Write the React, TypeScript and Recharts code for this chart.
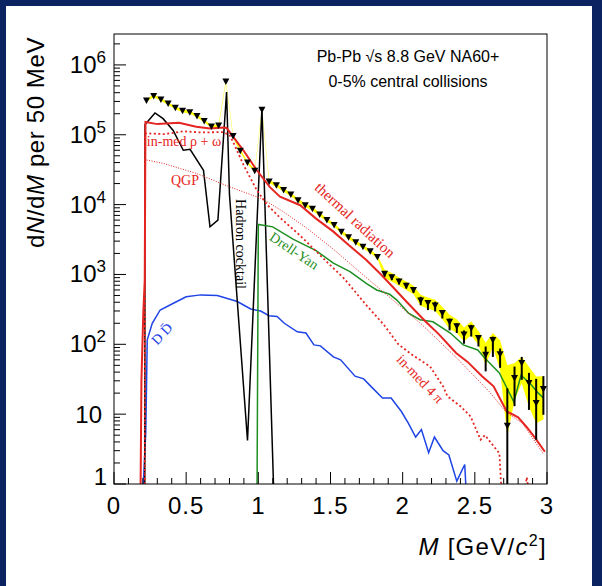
import React from 'react';
import { ComposedChart, Line, Area, Scatter, ErrorBar, XAxis, YAxis } from 'recharts';

// measured spectrum (50 MeV bins)
const massPts = [0.225, 0.275, 0.325, 0.375, 0.425, 0.475, 0.525, 0.575, 0.625, 0.675, 0.725, 0.775, 0.825, 0.875, 0.925, 0.975, 1.025, 1.075, 1.125, 1.175, 1.225, 1.275, 1.325, 1.375, 1.425, 1.475, 1.525, 1.575, 1.625, 1.675, 1.725, 1.775, 1.825, 1.875, 1.925, 1.975, 2.025, 2.075, 2.125, 2.175, 2.225, 2.275, 2.325, 2.375, 2.425, 2.475, 2.525, 2.575, 2.625, 2.675, 2.725, 2.775, 2.825, 2.875, 2.925, 2.975];
const yieldPts = [3.1e5, 3.6e5, 3.2e5, 2.8e5, 2.43e5, 2.2e5, 2.1e5, 1.85e5, 1.58e5, 1.31e5, 1.36e5, 5.8e5, 9.6e4, 5.9e4, 4.0e4, 3.06e4, 2.28e5, 2.14e4, 1.89e4, 1.62e4, 1.4e4, 1.15e4, 9800, 8700, 7200, 6000, 5100, 4100, 3400, 2900, 2500, 2150, 1780, 1020, 910, 790, 690, 600, 425, 390, 360, 280, 210, 182, 138, 170, 123, 71, 115, 72, 6.8, 33, 54, 28, 14.4, 23];
const statLo = [null, null, null, null, null, null, null, null, null, null, null, null, null, null, null, null, null, null, null, null, null, null, null, null, null, null, null, null, null, null, null, null, null, 930, 830, 720, 630, 545, 363, 309, 295, 234, 158, 145, 102, 129, 93, 41, 66, 46, 1, 13, 31, 11.5, 4.3, 9.8];
const statHi = [null, null, null, null, null, null, null, null, null, null, null, null, null, null, null, null, null, null, null, null, null, null, null, null, null, null, null, null, null, null, null, null, null, 1120, 1000, 870, 760, 660, 479, 427, 407, 309, 234, 200, 158, 190, 135, 93, 129, 87, 23.4, 48, 66, 39, 32, 35];
// systematic band half-widths, in decades
const sysUp = [0.02, 0.02, 0.02, 0.02, 0.02, 0.02, 0.02, 0.02, 0.02, 0.02, 0.02, 0.02, 0.02, 0.02, 0.02, 0.02, 0.02, 0.025, 0.025, 0.025, 0.025, 0.025, 0.025, 0.025, 0.025, 0.025, 0.025, 0.025, 0.025, 0.025, 0.025, 0.025, 0.025, 0.06, 0.06, 0.06, 0.06, 0.06, 0.08, 0.08, 0.08, 0.09, 0.1, 0.1, 0.1, 0.1, 0.1, 0.17, 0.1, 0.2, 0.87, 0.21, 0.09, 0.23, 0.38, 0.18];
const sysDn = [0.02, 0.02, 0.02, 0.02, 0.02, 0.02, 0.02, 0.02, 0.02, 0.02, 0.02, 0.02, 0.02, 0.02, 0.02, 0.02, 0.02, 0.025, 0.025, 0.025, 0.025, 0.025, 0.025, 0.025, 0.025, 0.025, 0.025, 0.025, 0.025, 0.025, 0.025, 0.025, 0.025, 0.06, 0.06, 0.06, 0.06, 0.06, 0.08, 0.08, 0.08, 0.09, 0.1, 0.1, 0.1, 0.1, 0.1, 0.15, 0.1, 0.23, 0.15, 0.32, 0.29, 0.34, 0.29, 0.44];

// thermal radiation (total)
const thermalM = [0.184, 0.19, 0.203, 0.213, 0.218, 0.3, 0.45, 0.57, 0.665, 0.76, 0.78, 0.826, 0.896, 0.99, 1.08, 1.15, 1.29, 1.4, 1.52, 1.63, 1.75, 1.85, 1.935, 2.03, 2.16, 2.25, 2.37, 2.45, 2.55, 2.63, 2.72, 2.8, 2.86, 2.92, 2.985];
const thermalV = [0.8, 30, 280, 830, 1.52e5, 1.42e5, 1.48e5, 1.3e5, 1.23e5, 1.27e5, 1.25e5, 9.3e4, 6e4, 3.1e4, 1.78e4, 1.3e4, 9.8e3, 6.3e3, 4.1e3, 2.6e3, 1.6e3, 1.0e3, 650, 400, 210, 140, 75, 56, 35, 25, 11, 9, 6.5, 4.5, 2.9];
// in-medium rho + omega (4 pi)
const rhoM = [0.213, 0.215, 0.35, 0.48, 0.6, 0.75, 0.8, 0.83, 0.9, 0.99, 1.06, 1.15, 1.29, 1.45, 1.6, 1.74, 1.87, 1.97, 2.06, 2.19, 2.28, 2.31, 2.4, 2.47, 2.54, 2.57, 2.67, 2.69, 2.83, 2.86, 2.88];
const rhoV = [0.3, 1.05e5, 1.02e5, 1.12e5, 1.08e5, 1.09e5, 1.0e5, 7.5e4, 3.6e4, 1.6e4, 1.0e4, 6.5e3, 3.6e3, 1.7e3, 850, 380, 190, 100, 72, 48, 25, 18, 13, 9.3, 4.3, 5, 2.75, 0.5, 0.5, 1.25, 0.6];
// QGP
const qgpM = [0.213, 0.215, 0.34, 0.57, 0.8, 1.03, 1.15, 1.336, 1.52, 1.735, 1.95, 2.135, 2.37, 2.6, 2.72, 2.83, 2.975];
const qgpV = [0.3, 4.4e4, 3.9e4, 2.8e4, 1.8e4, 1.2e4, 8.5e3, 4.6e3, 2.3e3, 950, 400, 190, 65, 21, 10.5, 7.4, 2.7];
// hadron cocktail
const cocktailM = [0.213, 0.215, 0.284, 0.34, 0.41, 0.48, 0.527, 0.62, 0.665, 0.72, 0.78, 0.8, 0.925, 1.025, 1.105, 1.115];
const cocktailV = [0.3, 1.4e5, 2.05e5, 1.7e5, 1.15e5, 6.0e4, 6.2e4, 3.1e4, 4.8e3, 6.0e3, 4.1e5, 1.4e4, 4.2, 2.4e5, 1, 0.3];
// Drell-Yan
const dyM = [0.99, 1.0, 1.1, 1.24, 1.4, 1.52, 1.635, 1.75, 1.82, 1.91, 1.96, 2.04, 2.12, 2.21, 2.33, 2.42, 2.52, 2.57, 2.67, 2.73, 2.77, 2.82, 2.88, 2.94, 2.975];
const dyV = [0.3, 5.2e3, 4.8e3, 3.2e3, 2.2e3, 1.45e3, 1.1e3, 740, 600, 520, 430, 280, 225, 210, 145, 98, 83, 63, 39, 22, 15, 36, 28, 20, 17];
// open charm (D Dbar)
const ddM = [0.2, 0.203, 0.22, 0.226, 0.23, 0.265, 0.32, 0.415, 0.5, 0.6, 0.716, 0.854, 0.947, 1.016, 1.074, 1.13, 1.18, 1.27, 1.33, 1.385, 1.43, 1.52, 1.57, 1.67, 1.73, 1.78, 1.86, 1.92, 1.99, 2.04, 2.09, 2.13, 2.18, 2.22, 2.28, 2.32, 2.375, 2.43, 2.445];
const ddV = [0.5, 1, 5.4, 31, 115, 200, 310, 390, 480, 510, 500, 410, 320, 300, 257, 251, 200, 151, 145, 98, 95, 66, 60, 35, 32, 25, 17, 17, 11, 7.4, 4.7, 6, 2.8, 4.7, 3, 2.6, 1.1, 1.9, 0.5];

const xTicks = [0, 0.1, 0.2, 0.3, 0.4, 0.5, 0.6, 0.7, 0.8, 0.9, 1, 1.1, 1.2, 1.3, 1.4, 1.5, 1.6, 1.7, 1.8, 1.9, 2, 2.1, 2.2, 2.3, 2.4, 2.5, 2.6, 2.7, 2.8, 2.9, 3];
const xLabels = ['0', '0.5', '1', '1.5', '2', '2.5', '3'];
const yDecades = [1, 10, 100, 1e3, 1e4, 1e5, 1e6];
const yTicks = yDecades.flatMap((d) => [1, 2, 3, 4, 5, 6, 7, 8, 9].map((k) => k * d)).filter((v) => v <= 2.7e6);

const W = 602;
const H = 586;
const PLOT_LEFT = 114;
const PLOT_RIGHT = 547;
const PLOT_TOP = 34;
const PLOT_BOTTOM = 484;

const RED = '#e52521';
const GREEN = '#1f8f23';
const BLUE = '#1e44e6';
const NAVY = '#0b2461';
const SANS = '"Liberation Sans", Arial, sans-serif';
const SERIF = '"Liberation Serif", "Times New Roman", serif';

const toPts = (ms: number[], vs: number[]) => ms.map((m, i) => ({ m, v: vs[i] }));

const dataPts = massPts.map((m, i) => ({
  m,
  v: yieldPts[i],
  err: statLo[i] == null ? [0, 0] : [yieldPts[i] - (statLo[i] as number), (statHi[i] as number) - yieldPts[i]],
}));
const bandPts = massPts.map((m, i) => ({
  m,
  band: [yieldPts[i] / Math.pow(10, sysDn[i]), yieldPts[i] * Math.pow(10, sysUp[i])],
}));

const YTick = ({ y, payload }: any) => {
  const v = payload.value;
  const exp = Math.round(Math.log10(v));
  const major = Math.abs(v / Math.pow(10, exp) - 1) < 1e-6;
  return (
    <g>
      <line x1={PLOT_LEFT} x2={PLOT_LEFT + (major ? 12 : 6)} y1={y} y2={y} stroke="#000" strokeWidth={1} />
      {major && exp === 0 && (
        <text x={107} y={y + 1} textAnchor="end" fontFamily={SANS} fontSize={24} fill="#000">1</text>
      )}
      {major && exp === 1 && (
        <text x={102} y={y + 9} textAnchor="end" fontFamily={SANS} fontSize={24} fill="#000">10</text>
      )}
      {major && exp >= 2 && (
        <text x={106} y={y + 8} textAnchor="end" fontFamily={SANS} fontSize={24} fill="#000">
          10<tspan dy={-10} fontSize={17}>{exp}</tspan>
        </text>
      )}
    </g>
  );
};

const XTick = ({ x, payload }: any) => {
  const v = payload.value;
  const idx = Math.round(v * 10);
  const major = idx % 5 === 0;
  return (
    <g>
      <line x1={x} x2={x} y1={PLOT_BOTTOM} y2={PLOT_BOTTOM - (major ? 12 : 6)} stroke="#000" strokeWidth={1} />
      {major && (
        <text x={x} y={PLOT_BOTTOM + 30} textAnchor="middle" fontFamily={SANS} fontSize={24} letterSpacing={1} fill="#000">
          {xLabels[idx / 5]}
        </text>
      )}
    </g>
  );
};

const Triangle = ({ cx, cy }: any) => (
  <path d={`M${cx - 3.5},${cy - 3} L${cx + 3.5},${cy - 3} L${cx},${cy + 3.5} Z`} fill="#000" />
);

const Note = ({ x, y, angle, color, size = 14, children }: any) => (
  <text
    x={0}
    y={0}
    transform={`translate(${x},${y}) rotate(${angle})`}
    textAnchor="middle"
    dominantBaseline="central"
    fontFamily={SERIF}
    fontSize={size}
    fill={color}
  >
    {children}
  </text>
);

export default function App() {
  return (
    <div style={{ position: 'fixed', left: 0, top: 0, width: W, height: H, background: '#fff', overflow: 'hidden' }}>
      <div style={{ position: 'absolute', left: 0, top: 0, width: 6, height: H, background: NAVY }} />
      <div style={{ position: 'absolute', left: 0, top: 0, width: W, height: 6, background: NAVY }} />
      <div style={{ position: 'absolute', left: W - 10, top: 0, width: 10, height: H, background: NAVY }} />
      <div style={{ position: 'absolute', left: 0, top: 0 }}>
        <ComposedChart width={W} height={H} margin={{ top: PLOT_TOP, right: W - PLOT_RIGHT, bottom: 0, left: 0 }}>
          <XAxis
            type="number"
            dataKey="m"
            domain={[0, 3]}
            ticks={xTicks}
            allowDataOverflow
            axisLine={false}
            tickLine={false}
            tick={<XTick />}
            height={H - PLOT_BOTTOM}
            interval={0}
          />
          <YAxis
            scale="log"
            domain={[1, 2.77e6]}
            ticks={yTicks}
            allowDataOverflow
            axisLine={false}
            tickLine={false}
            tick={<YTick />}
            width={PLOT_LEFT}
            interval={0}
          />
          <Area data={bandPts} dataKey="band" type="linear" fill="#ffff00" fillOpacity={1} stroke="none" isAnimationActive={false} />
          <Line data={toPts(ddM, ddV)} dataKey="v" type="linear" stroke={BLUE} strokeWidth={1.5} dot={false} isAnimationActive={false} />
          <Line data={toPts(cocktailM, cocktailV)} dataKey="v" type="linear" stroke="#000" strokeWidth={1.5} dot={false} isAnimationActive={false} />
          <Line data={toPts(dyM, dyV)} dataKey="v" type="linear" stroke={GREEN} strokeWidth={1.5} dot={false} isAnimationActive={false} />
          <Line data={toPts(qgpM, qgpV)} dataKey="v" type="linear" stroke={RED} strokeWidth={1} strokeDasharray="1 1.5" dot={false} isAnimationActive={false} />
          <Line data={toPts(rhoM, rhoV)} dataKey="v" type="linear" stroke={RED} strokeWidth={1.8} strokeDasharray="2 2.5" dot={false} isAnimationActive={false} />
          <Line data={toPts(thermalM, thermalV)} dataKey="v" type="linear" stroke={RED} strokeWidth={2} dot={false} isAnimationActive={false} />
          <Scatter data={dataPts} dataKey="v" shape={<Triangle />} isAnimationActive={false}>
            <ErrorBar dataKey="err" direction="y" width={0} stroke="#000" strokeWidth={2} />
          </Scatter>
        </ComposedChart>
      </div>
      <svg width={W} height={H} style={{ position: 'absolute', left: 0, top: 0, pointerEvents: 'none' }}>
        <rect x={PLOT_LEFT} y={PLOT_TOP} width={PLOT_RIGHT - PLOT_LEFT} height={PLOT_BOTTOM - PLOT_TOP} fill="none" stroke="#000" strokeWidth={1} />
        <text x={408} y={62} textAnchor="middle" fontFamily={SANS} fontSize={16} fill="#000">Pb-Pb  √s 8.8 GeV NA60+</text>
        <text x={408} y={87} textAnchor="middle" fontFamily={SANS} fontSize={16} fill="#000">0-5% central collisions</text>
        <text transform="translate(44,37) rotate(-90)" textAnchor="end" fontFamily={SANS} fontSize={24} letterSpacing={0.6} fill="#000">
          d<tspan fontStyle="italic">N</tspan>/d<tspan fontStyle="italic">M</tspan> per 50 MeV
        </text>
        <text x={547} y={555} textAnchor="end" fontFamily={SANS} fontSize={24} letterSpacing={1.3} fill="#000">
          <tspan fontStyle="italic">M</tspan> [GeV/<tspan fontStyle="italic">c</tspan><tspan dy={-9} fontSize={16}>2</tspan><tspan dy={9}>]</tspan>
        </text>
        <text x={184} y={146} textAnchor="middle" fontFamily={SERIF} fontSize={14} fill={RED}>in-med ρ + ω</text>
        <text x={185} y={185} textAnchor="middle" fontFamily={SERIF} fontSize={14} fill={RED}>QGP</text>
        <Note x={355} y={220} angle={42.7} color={RED} size={15}>thermal radiation</Note>
        <Note x={240.5} y={244} angle={90} color="#000">Hadron cocktail</Note>
        <Note x={294} y={251} angle={34} color={GREEN}>Drell-Yan</Note>
        <Note x={162} y={334} angle={-47} color={BLUE}>D D̄</Note>
        <Note x={420} y={379} angle={46.5} color={RED}>in-med 4 π</Note>
      </svg>
    </div>
  );
}
